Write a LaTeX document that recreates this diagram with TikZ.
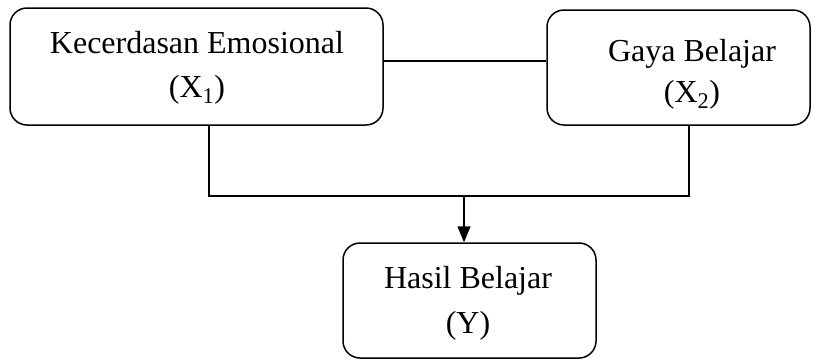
\documentclass[tikz,border=0pt]{standalone}
\usepackage{fontspec}
\setmainfont{Liberation Serif}
\usetikzlibrary{arrows.meta}
\begin{document}
\begin{tikzpicture}[x=1pt,y=-1pt,
  box/.style={draw,line width=1.5pt,rounded corners=17pt,inner sep=0pt},
  lbl/.style={align=center,font=\fontsize{32}{44}\selectfont,inner sep=0pt,anchor=base},
  conn/.style={line width=1.5pt}]
\useasboundingbox (0,0) rectangle (813,360);
\node[box,minimum width=373pt,minimum height=117pt] (b1) at (196.5,66.5) {};
\node[box,minimum width=263pt,minimum height=115pt] (b2) at (678.5,67.5) {};
\node[box,minimum width=253pt,minimum height=115pt] (b3) at (469.5,300.5) {};
\node[lbl] (t1a) at (197,53) {Kecerdasan Emosional};
\node[lbl] (t1b) at (197,97) {(X\textsubscript{1})};
\node[lbl] (t2a) at (692,61) {Gaya Belajar};
\node[lbl] (t2b) at (692,102) {(X\textsubscript{2})};
\node[lbl] (t3a) at (468,288) {Hasil Belajar};
\node[lbl] (t3b) at (468,333) {(Y)};
\coordinate (jl) at (209,196);
\coordinate (jr) at (689,196);
\coordinate (jm) at (464,196);
\draw[conn] (b1.east|-0,61) -- (b2.west|-0,61);
\draw[conn] (b1.south-|jl) -- (jl) -- (jr) -- (b2.south-|jr);
\draw[conn,-{Triangle[length=16pt,width=13pt]}] (jm) -- (b3.north-|jm);
\end{tikzpicture}
\end{document}
